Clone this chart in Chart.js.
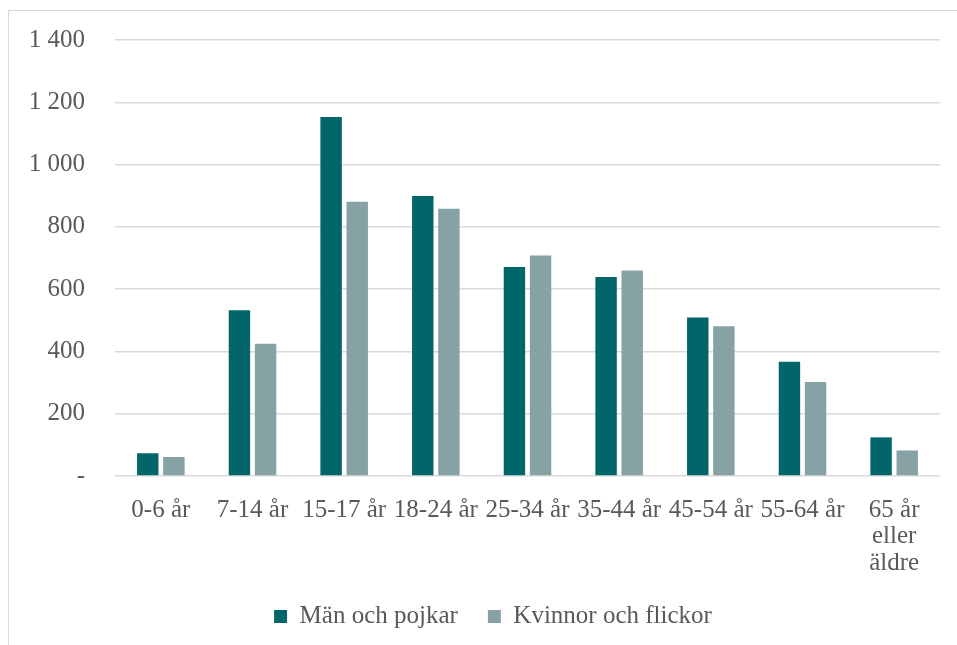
<!DOCTYPE html>
<html>
<head>
<meta charset="utf-8">
<script src="https://cdn.jsdelivr.net/npm/chart.js@4"></script>
<style>
  html, body { margin: 0; padding: 0; background: #fff; }
  #wrap { position: relative; width: 957px; height: 645px; }
  #frame { position: absolute; left: 8px; top: 10px; right: -2px; bottom: -2px;
           border-left: 1.5px solid #d9d9d9; border-top: 1.5px solid #d9d9d9; pointer-events: none; }
  canvas { position: absolute; left: 0; top: 0; }
</style>
</head>
<body>
<div id="wrap">
  <canvas id="c" width="957" height="645"></canvas>
  <div id="frame"></div>
</div>
<script>
const categories = ['0-6 år', '7-14 år', '15-17 år', '18-24 år', '25-34 år', '35-44 år', '45-54 år', '55-64 år', ['65 år', 'eller', 'äldre']];
const menValues = [73, 532, 1153, 899, 671, 639, 509, 367, 124];
const womenValues = [61, 425, 881, 858, 708, 660, 481, 302, 82];
const seriesNames = ['Män och pojkar', 'Kvinnor och flickor'];
const yTicks = [0, 200, 400, 600, 800, 1000, 1200, 1400];

const FONT = { family: '"Liberation Serif", "Times New Roman", serif', size: 25 };
const TEXT = '#595959';

const shiftLegend = {
  id: 'shiftLegend',
  afterLayout(chart) { if (chart.legend) { chart.legend.left += 46; } }
};

new Chart(document.getElementById('c'), {
  type: 'bar',
  data: {
    labels: categories,
    datasets: [
      { label: seriesNames[0], data: menValues, backgroundColor: '#00666A',
        barPercentage: 0.82, categoryPercentage: 0.57 },
      { label: seriesNames[1], data: womenValues, backgroundColor: '#86A2A5',
        barPercentage: 0.82, categoryPercentage: 0.57 }
    ]
  },
  plugins: [shiftLegend],
  options: {
    responsive: false,
    animation: false,
    layout: { padding: { top: 40, right: 17, bottom: 6, left: 0 } },
    plugins: {
      tooltip: { enabled: false },
      legend: {
        position: 'bottom',
        labels: {
          font: FONT, color: TEXT, boxWidth: 13, boxHeight: 13, padding: 30
        }
      }
    },
    scales: {
      x: {
        grid: { display: false },
        border: { display: false },
        ticks: { font: { ...FONT, lineHeight: 1.06 }, color: TEXT, maxRotation: 0, autoSkip: false, padding: 13 },
        afterFit: s => { s.height = 98; }
      },
      y: {
        min: 0, max: 1400,
        afterBuildTicks: s => { s.ticks = yTicks.map(v => ({ value: v })); },
        grid: { color: '#d9d9d9', lineWidth: 1.5, drawTicks: false },
        border: { display: false },
        ticks: {
          font: { ...FONT, lineHeight: 0.5 }, color: TEXT, padding: 30,
          callback: v => v === 0 ? '-' : String(v).replace(/\B(?=(\d{3})+(?!\d))/g, ' ')
        },
        afterFit: s => { s.width = 115; }
      }
    }
  }
});
</script>
</body>
</html>
